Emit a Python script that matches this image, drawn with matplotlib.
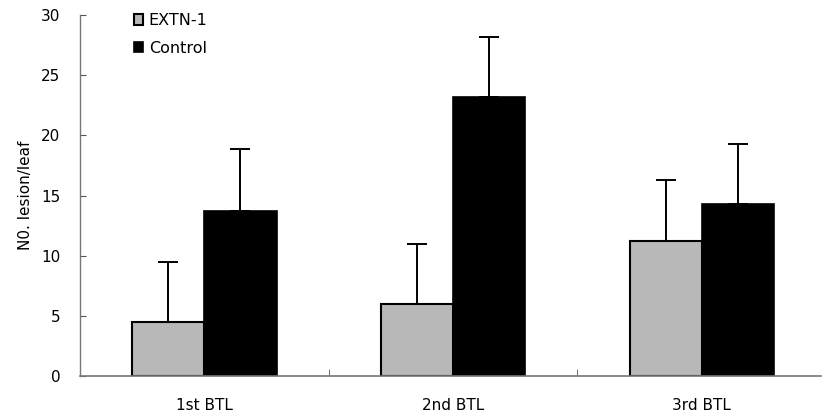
import matplotlib
matplotlib.use("Agg")
import matplotlib.pyplot as plt
import numpy as np

categories = ["1st BTL", "2nd BTL", "3rd BTL"]
extn_values = [4.5, 6.0, 11.2]
extn_err = [5.0, 5.0, 5.1]
control_values = [13.7, 23.2, 14.3]
control_err = [5.2, 5.0, 5.0]
series_labels = ["EXTN-1", "Control"]
yticks = [0, 5, 10, 15, 20, 25, 30]

plt.rcParams['font.family'] = ['DejaVu Sans']

fig = plt.figure(figsize=(8.3, 4.18), dpi=100)
ax = fig.add_axes([0.0964, 0.100, 0.893, 0.864])

x = np.arange(len(categories))
w = 0.29
err_kw = dict(ecolor='black', elinewidth=1.4, capsize=7, capthick=1.4)
ax.bar(x - w/2, extn_values, w, color='#b8b8b8', edgecolor='black', linewidth=1.5,
       yerr=[np.zeros(3), extn_err], error_kw=err_kw, label=series_labels[0], zorder=2)
ax.bar(x + w/2, control_values, w, color='black', edgecolor='black', linewidth=1.2,
       yerr=[np.zeros(3), control_err], error_kw=err_kw, label=series_labels[1], zorder=2)

ax.set_xlim(-0.5, 2.48)
ax.set_ylim(0, 30)
ax.set_yticks(yticks)
ax.set_xticks(x)
ax.set_xticklabels(categories)
ax.set_xticks([0.5, 1.5], minor=True)
ax.tick_params(axis='x', which='major', length=0, pad=16, labelsize=11)
ax.tick_params(axis='x', which='minor', direction='in', length=5, color='#555555')
ax.tick_params(axis='y', direction='in', length=4, pad=14, labelsize=11, color='#555555')
for s in ['top', 'right']:
    ax.spines[s].set_visible(False)
ax.spines['left'].set_color('#777777')
ax.spines['bottom'].set_color('#777777')
ax.spines['left'].set_linewidth(1.0)
ax.spines['bottom'].set_linewidth(1.2)

ax.set_ylabel("N0. lesion/leaf", fontsize=11, labelpad=6)

leg = ax.legend(loc='upper left', bbox_to_anchor=(0.053, 1.045), frameon=False,
                handlelength=0.6, handleheight=0.6, handletextpad=0.35,
                labelspacing=0.8, fontsize=11.5)

fig.savefig("out.png", dpi=100)
